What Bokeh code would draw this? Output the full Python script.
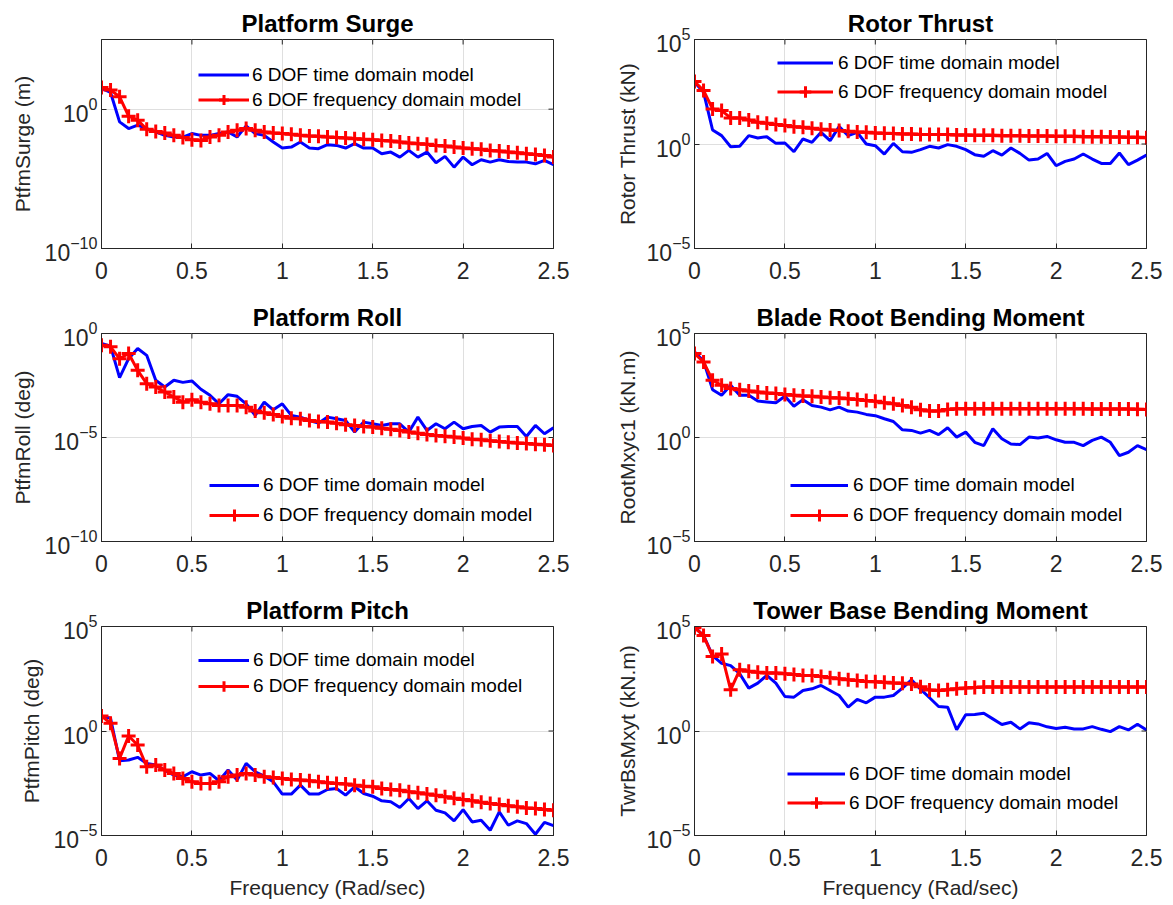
import math
from bokeh.plotting import figure
from bokeh.layouts import gridplot
from bokeh.models import (Range1d, FixedTicker, LogTickFormatter, CustomJSTickFormatter,
                          Legend, LegendItem)
from bokeh.embed import file_html
from bokeh.resources import INLINE

# ---------------- data (log10 of amplitude) ----------------
freq = [0.0, 0.05, 0.1, 0.15, 0.2, 0.25, 0.3, 0.35, 0.4, 0.45, 0.5, 0.55, 0.6, 0.65, 0.7,
        0.75, 0.8, 0.85, 0.9, 0.95, 1.0, 1.05, 1.1, 1.15, 1.2, 1.25, 1.3, 1.35, 1.4, 1.45,
        1.5, 1.55, 1.6, 1.65, 1.7, 1.75, 1.8, 1.85, 1.9, 1.95, 2.0, 2.05, 2.1, 2.15, 2.2,
        2.25, 2.3, 2.35, 2.4, 2.45, 2.5]

series_labels = ["6 DOF time domain model", "6 DOF frequency domain model"]
x_tick_values = [0, 0.5, 1, 1.5, 2, 2.5]
x_label = "Frequency (Rad/sec)"

surge_time_log = [1.49, 1.2, -0.91, -1.39, -1.15, -1.39, -1.63, -1.88, -2.0, -2.0,
                  -1.75, -1.88, -1.88, -1.75, -1.63, -2.0, -1.2, -1.75, -1.88, -2.36,
                  -2.79, -2.72, -2.36, -2.79, -2.84, -2.55, -2.6, -2.79, -2.48, -2.79,
                  -2.79, -3.2, -3.08, -3.44, -2.96, -3.44, -3.08, -3.85, -3.39, -4.16,
                  -3.44, -3.99, -3.63, -3.8, -3.63, -3.75, -3.8, -3.8, -3.92, -3.68, -3.99]
surge_freq_log = [1.56, 1.37, 0.89, -0.5, -0.79, -1.45, -1.6, -1.71, -1.88, -2.04,
                  -2.19, -2.24, -2.0, -1.88, -1.63, -1.51, -1.39, -1.51, -1.63, -1.71,
                  -1.75, -1.8, -1.88, -1.92, -1.95, -2.0, -2.04, -2.07, -2.12, -2.16,
                  -2.19, -2.24, -2.28, -2.36, -2.43, -2.48, -2.52, -2.6, -2.64, -2.72,
                  -2.79, -2.84, -2.88, -2.96, -3.0, -3.08, -3.13, -3.2, -3.25, -3.32, -3.44]

thrust_time_log = [2.96, 2.48, 0.67, 0.4, -0.13, -0.11, 0.4, 0.29, 0.35, 0.03,
                   0.05, -0.37, 0.24, 0.08, 0.56, 0.16, 0.83, 0.4, 0.56, 0.0,
                   -0.08, -0.48, 0.03, -0.37, -0.4, -0.27, -0.11, -0.19, -0.03, -0.11,
                   -0.27, -0.51, -0.59, -0.32, -0.53, -0.19, -0.45, -0.77, -0.72, -0.45,
                   -1.04, -0.83, -0.72, -0.48, -0.72, -0.93, -0.93, -0.43, -0.99, -0.77, -0.53]
thrust_freq_log = [2.99, 2.56, 1.68, 1.6, 1.25, 1.25, 1.15, 1.04, 0.99, 0.93,
                   0.88, 0.83, 0.8, 0.75, 0.7, 0.67, 0.64, 0.61, 0.58, 0.56,
                   0.53, 0.51, 0.5, 0.48, 0.48, 0.46, 0.46, 0.45, 0.45, 0.43,
                   0.43, 0.42, 0.42, 0.42, 0.4, 0.4, 0.4, 0.38, 0.38, 0.38,
                   0.37, 0.37, 0.37, 0.35, 0.35, 0.35, 0.34, 0.34, 0.32, 0.32, 0.3]

roll_time_log = [-0.48, -0.61, -2.12, -1.21, -0.72, -1.05, -2.25, -2.57, -2.25, -2.35,
                 -2.28, -2.68, -2.97, -3.38, -2.94, -3.02, -3.38, -3.94, -3.3, -3.67,
                 -3.38, -3.94, -4.02, -4.18, -4.31, -4.02, -4.1, -4.18, -4.74, -4.26,
                 -4.34, -4.42, -4.34, -4.34, -4.74, -4.02, -4.66, -4.34, -4.58, -4.26,
                 -4.58, -4.47, -4.42, -4.74, -4.5, -4.47, -4.47, -4.95, -4.42, -4.82, -4.53]
roll_freq_log = [-0.56, -0.64, -1.21, -0.96, -1.77, -2.41, -2.57, -2.81, -3.05, -3.3,
                 -3.18, -3.3, -3.38, -3.46, -3.46, -3.46, -3.54, -3.73, -3.81, -3.89,
                 -3.99, -4.07, -4.1, -4.18, -4.23, -4.26, -4.31, -4.39, -4.42, -4.47,
                 -4.5, -4.55, -4.6, -4.66, -4.74, -4.79, -4.86, -4.9, -4.94, -4.98,
                 -5.03, -5.08, -5.11, -5.16, -5.19, -5.23, -5.26, -5.29, -5.32, -5.35, -5.39]

blade_time_log = [4.12, 3.68, 2.3, 2.03, 2.51, 2.03, 2.03, 1.75, 1.71, 1.67,
                  1.98, 1.5, 1.82, 1.54, 1.46, 1.33, 1.46, 1.27, 1.22, 1.11,
                  1.05, 0.9, 0.77, 0.37, 0.34, 0.21, 0.34, 0.14, 0.47, 0.02,
                  0.26, -0.23, -0.39, 0.42, -0.06, -0.31, -0.34, 0.02, -0.02, 0.05,
                  -0.11, -0.23, -0.23, -0.39, -0.14, 0.02, -0.23, -0.87, -0.71, -0.39, -0.58]
blade_freq_log = [4.04, 3.63, 2.75, 2.51, 2.35, 2.3, 2.23, 2.19, 2.14, 2.11,
                  2.07, 2.03, 1.99, 1.98, 1.95, 1.91, 1.9, 1.86, 1.83, 1.78,
                  1.74, 1.67, 1.62, 1.54, 1.46, 1.33, 1.27, 1.27, 1.35, 1.38,
                  1.38, 1.38, 1.38, 1.38, 1.38, 1.38, 1.38, 1.38, 1.38, 1.38,
                  1.38, 1.38, 1.38, 1.38, 1.37, 1.37, 1.37, 1.37, 1.37, 1.36, 1.35]

pitch_time_log = [0.72, 0.61, -1.42, -1.39, -1.26, -1.55, -1.63, -1.87, -2.11, -2.19,
                  -1.95, -2.11, -2.03, -2.38, -1.87, -2.35, -1.55, -1.95, -2.16, -2.43,
                  -3.02, -3.02, -2.59, -3.02, -3.02, -2.8, -2.75, -3.07, -2.67, -2.99,
                  -3.12, -3.34, -3.39, -3.66, -3.23, -3.71, -3.34, -3.79, -3.92, -4.3,
                  -3.76, -4.35, -4.27, -4.75, -3.87, -4.51, -4.3, -4.43, -4.94, -4.37, -4.53]
pitch_freq_log = [0.72, 0.37, -1.31, -0.24, -0.67, -1.71, -1.63, -1.87, -2.03, -2.27,
                  -2.43, -2.51, -2.51, -2.43, -2.19, -2.11, -2.03, -2.11, -2.19, -2.22,
                  -2.27, -2.32, -2.35, -2.38, -2.43, -2.48, -2.51, -2.54, -2.59, -2.64,
                  -2.67, -2.75, -2.8, -2.83, -2.91, -2.96, -3.02, -3.07, -3.15, -3.22,
                  -3.28, -3.34, -3.41, -3.47, -3.52, -3.58, -3.63, -3.68, -3.71, -3.76, -3.79]

tower_time_log = [4.97, 4.57, 3.61, 3.24, 3.13, 2.74, 2.05, 2.29, 2.66, 2.29,
                  1.65, 1.62, 1.94, 2.02, 2.18, 1.94, 1.7, 1.14, 1.51, 1.35,
                  1.62, 1.62, 1.7, 2.05, 2.45, 2.0, 1.59, 1.17, 1.14, 0.06,
                  0.78, 0.79, 0.85, 0.58, 0.31, 0.42, 0.1, 0.39, 0.34, 0.2,
                  0.12, 0.18, 0.1, 0.1, 0.21, 0.08, -0.03, 0.21, 0.05, 0.32, 0.05]
tower_freq_log = [4.94, 4.57, 3.56, 3.69, 1.97, 2.93, 2.86, 2.81, 2.77, 2.77,
                  2.74, 2.7, 2.66, 2.66, 2.61, 2.55, 2.5, 2.45, 2.42, 2.37,
                  2.36, 2.33, 2.3, 2.28, 2.25, 2.12, 1.96, 1.94, 1.97, 2.02,
                  2.06, 2.08, 2.1, 2.1, 2.1, 2.1, 2.1, 2.1, 2.1, 2.1,
                  2.1, 2.1, 2.1, 2.1, 2.1, 2.1, 2.1, 2.1, 2.1, 2.1, 2.1]

titles = ["Platform Surge", "Rotor Thrust", "Platform Roll",
          "Blade Root Bending Moment", "Platform Pitch", "Tower Base Bending Moment"]
y_labels = ["PtfmSurge (m)", "Rotor Thrust (kN)", "PtfmRoll (deg)",
            "RootMxyc1 (kN.m)", "PtfmPitch (deg)", "TwrBsMxyt (kN.m)"]
y_limits_exp = [(-10, 5), (-5, 5), (-10, 0), (-5, 5), (-5, 5), (-5, 5)]
y_tick_exp = [[-10, 0], [-5, 0, 5], [-10, -5, 0], [-5, 0, 5], [-5, 0, 5], [-5, 0, 5]]
time_series = [surge_time_log, thrust_time_log, roll_time_log,
               blade_time_log, pitch_time_log, tower_time_log]
freq_series = [surge_freq_log, thrust_freq_log, roll_freq_log,
               blade_freq_log, pitch_freq_log, tower_freq_log]

# ---------------- styling / layout ----------------
FONT = "Liberation Sans"
AX = "#262626"
BLUE = "#0000ff"
RED = "#ff0000"

col_geom = [dict(width=590, left=101, right=37), dict(width=575, left=104, right=19)]
row_geom = [dict(height=290, top=39, bottom=42),
            dict(height=294, top=43, bottom=43),
            dict(height=319, top=42, bottom=68)]
# legend: (x, y) from frame bottom-left, glyph width, row pitch, label standoff
legend_geom = [((97, 136), 51, 25, 3), ((83, 142), 56, 29, 5),
               ((108, 11), 50, 30, 4), ((96, 11), 58, 30, 5),
               ((97, 136), 51, 26, 4), ((93, 18), 58, 29, 4)]


def make_panel(k):
    r, c = divmod(k, 2)
    cg, rg = col_geom[c], row_geom[r]
    lo, hi = y_limits_exp[k]
    p = figure(width=cg["width"], height=rg["height"],
               x_range=Range1d(0, 2.5), y_range=Range1d(10.0 ** lo, 10.0 ** hi),
               y_axis_type="log", output_backend="svg", toolbar_location=None,
               min_border_left=cg["left"], min_border_right=cg["right"],
               min_border_top=rg["top"], min_border_bottom=rg["bottom"],
               background_fill_color="white", border_fill_color="white")
    p.title.text = titles[k]
    p.title.align = "center"
    p.title.text_font = FONT
    p.title.text_font_size = "24px"
    p.title.text_font_style = "bold"
    p.title.text_color = "black"
    p.title.standoff = 6

    p.outline_line_color = AX
    p.outline_line_width = 1
    p.outline_line_alpha = 1.0

    p.xaxis.ticker = FixedTicker(ticks=x_tick_values)
    p.xaxis.formatter = CustomJSTickFormatter(code="return tick.toString();")
    yt_vals = [10.0 ** e for e in y_tick_exp[k]]
    p.yaxis.ticker = FixedTicker(ticks=yt_vals)
    p.yaxis.formatter = LogTickFormatter()

    for ax in (p.xaxis[0], p.yaxis[0]):
        ax.major_tick_in = 5
        ax.major_tick_out = 0
        ax.minor_tick_line_color = None
        ax.major_tick_line_color = AX
        ax.axis_line_color = AX
        ax.major_label_text_font = FONT
        ax.major_label_text_font_size = "23px"
        ax.major_label_text_color = AX
        ax.axis_label_text_font = FONT
        ax.axis_label_text_font_size = "21px"
        ax.axis_label_text_font_style = "normal"
        ax.axis_label_text_color = AX
    p.xaxis.major_label_standoff = 13
    p.yaxis.major_label_standoff = 4
    p.yaxis.axis_label = y_labels[k]
    p.yaxis.axis_label_standoff = 8 if c == 0 else 5
    if r == 2:
        p.xaxis.axis_label = x_label
        p.xaxis.axis_label_standoff = 7

    p.xgrid.grid_line_color = "#dfdfdf"
    p.ygrid.grid_line_color = "#dfdfdf"
    p.xgrid.grid_line_width = 1
    p.ygrid.grid_line_width = 1

    t_vals = [10.0 ** e for e in time_series[k]]
    f_vals = [10.0 ** e for e in freq_series[k]]
    r_t = p.line(freq, t_vals, line_color=BLUE, line_width=3)
    r_f = p.line(freq, f_vals, line_color=RED, line_width=3)
    r_m = p.scatter(freq, f_vals, marker="cross", size=14, line_color=RED, line_width=3)

    # inward ticks on the top and right edges of the box
    p.scatter(x_tick_values, [10.0 ** hi] * len(x_tick_values), marker="dash",
              angle=math.pi / 2, size=10, line_color=AX, line_width=1)
    p.scatter([2.5] * len(yt_vals), yt_vals, marker="dash", size=10,
              line_color=AX, line_width=1)

    loc, gw, pitch, ls = legend_geom[k]
    legend = Legend(items=[LegendItem(label=series_labels[0], renderers=[r_t]),
                           LegendItem(label=series_labels[1], renderers=[r_f, r_m])],
                    location=loc, padding=0, margin=0, spacing=0,
                    glyph_width=gw, glyph_height=pitch, label_height=pitch,
                    label_standoff=ls, label_text_font=FONT,
                    label_text_font_size="19px", label_text_color="black",
                    background_fill_alpha=0.0, border_line_color=None)
    p.add_layout(legend)
    return p


plots = [make_panel(k) for k in range(6)]
grid = gridplot([[plots[0], plots[1]], [plots[2], plots[3]], [plots[4], plots[5]]],
                toolbar_location=None)

html = file_html(grid, INLINE, "Platform responses")
open("out.html", "w").write(html)
